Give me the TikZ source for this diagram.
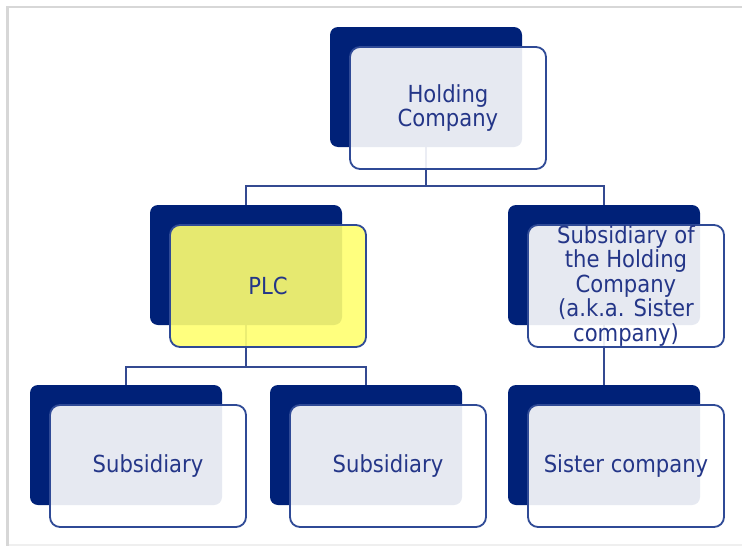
\documentclass[tikz,border=0pt]{standalone}
\usepackage{fontspec}
\setmainfont{DejaVu Sans Condensed}
\usetikzlibrary{calc}
\definecolor{navy}{RGB}{0,33,120}
\definecolor{edgeblue}{RGB}{47,74,150}
\definecolor{inkblue}{RGB}{36,54,136}
\definecolor{lineblue}{RGB}{52,74,145}
\definecolor{hiyellow}{RGB}{255,255,112}
\definecolor{framegrey}{RGB}{215,215,215}
\pgfdeclarelayer{bg}
\pgfdeclarelayer{conn}
\pgfsetlayers{bg,conn,main}
\tikzset{
  backbox/.style={anchor=north west, fill=navy, draw=none, rounded corners=8pt,
    minimum width=192pt, minimum height=120pt, inner sep=0pt, outer sep=0pt},
  frontbox/.style={anchor=center, draw=edgeblue, line width=1.8pt, rounded corners=10pt,
    fill=white, fill opacity=0.9, text opacity=1, text=inkblue,
    minimum width=196pt, minimum height=122pt, inner sep=0pt, outer sep=0pt,
    align=center, font=\fontsize{23.5}{24.5}\selectfont},
  linkline/.style={draw=lineblue, line width=1.6pt},
}
% one org-chart unit: dark back card plus translucent front card
\newcommand{\orgunit}[5]{%
  \node[backbox] (#1-b) at (#2,#3) {};
  \node[frontbox,#4] (#1) at ($(#2,#3)+(118,81)$) {#5};
}
\begin{document}
\begin{tikzpicture}[x=1pt,y=-1pt]
\useasboundingbox (0,0) rectangle (742,546);
\begin{pgfonlayer}{bg}
  \fill[white] (0,0) rectangle (742,546);
  \fill[framegrey] (6,7) rectangle (9,546);
  \fill[framegrey] (6,6) rectangle (742,8);
  \fill[framegrey!40] (9,544) rectangle (742,546);
\end{pgfonlayer}

\orgunit{hold}{330}{27}{}{Holding\\Company}
\orgunit{plc}{150}{205}{fill=hiyellow}{PLC}
\orgunit{sis}{508}{205}{}{Subsidiary of\\the Holding\\Company\\(a.k.a. Sister\\company)}
\orgunit{suba}{30}{385}{}{Subsidiary}
\orgunit{subb}{270}{385}{}{Subsidiary}
\orgunit{sisco}{508}{385}{}{Sister company}

\begin{pgfonlayer}{conn}
  \coordinate (busa) at ($(hold-b.south)+(0,39)$);
  \coordinate (busb) at ($(plc-b.south)+(0,42)$);
  \draw[linkline] (hold-b.south) -- (busa);
  \draw[linkline] (plc-b.north) |- (busa) -| (sis-b.north);
  \draw[linkline] (plc-b.south) -- (busb);
  \draw[linkline] (suba-b.north) |- (busb) -| (subb-b.north);
  \draw[linkline] (sis-b.south) -- (sisco-b.north);
\end{pgfonlayer}
\end{tikzpicture}
\end{document}
